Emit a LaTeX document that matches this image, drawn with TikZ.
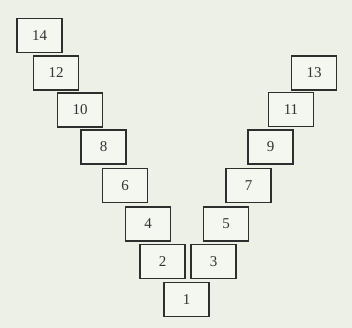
\documentclass[tikz,border=0pt]{standalone}
\usepackage{fontspec}
\setmainfont{Liberation Serif}
\usepackage{tikz}
\definecolor{paper}{HTML}{EDF0E6}
\definecolor{boxline}{HTML}{2E2E2E}
\tikzset{
    numbox/.style={draw=boxline, line width=1.9pt, fill=paper!60!white,
        minimum width=45pt, minimum height=34pt, inner sep=0pt,
        font=\fontsize{15}{17}\selectfont, text=black!80}
}

\begin{document}
\begin{tikzpicture}[x=1pt, y=-1pt]
    % Page
    \fill[paper] (0,0) rectangle (352,328);
    \useasboundingbox (0,0) rectangle (352,328);
    % Left arm (even numbers)
    \foreach \n/\x/\y in {2/162.5/261.5, 4/148/224, 6/125/185.5, 8/103.5/147,
                          10/80/110, 12/56/73, 14/39.5/35.5}
        \node[numbox] (b\n) at (\x,\y) {\n};
    % Right arm (odd numbers)
    \foreach \n/\x/\y in {1/186.5/299.5, 3/213.5/261.5, 5/226/224, 7/248.5/185.5,
                          9/270.5/147, 11/291/109.5, 13/314/73}
        \node[numbox] (b\n) at (\x,\y) {\n};
\end{tikzpicture}
\end{document}
